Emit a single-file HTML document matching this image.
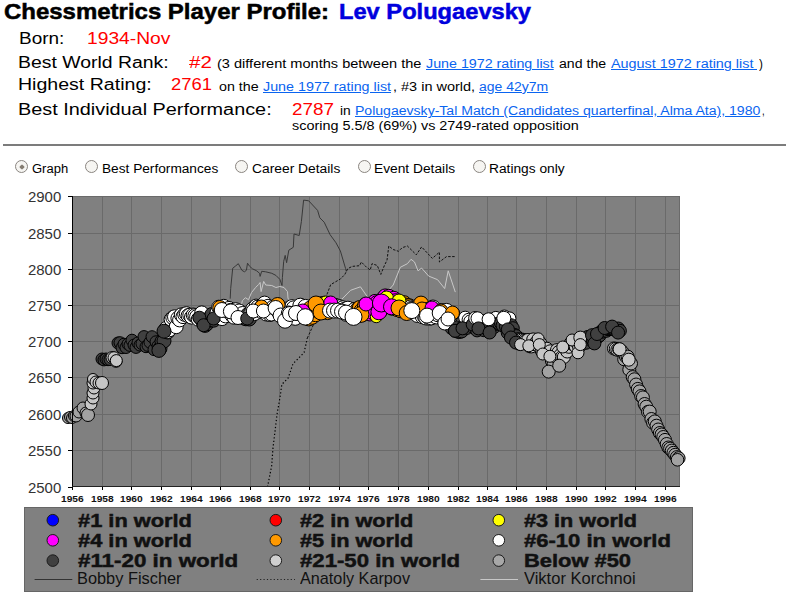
<!DOCTYPE html>
<html><head><meta charset="utf-8"><style>
html,body{margin:0;padding:0;background:#fff;width:789px;height:597px;overflow:hidden;position:relative}
body{font-family:"Liberation Sans",sans-serif}
.t{position:absolute;white-space:pre;transform-origin:0 0}
.radio{position:absolute;width:11px;height:11px;border:1px solid #8a8580;border-radius:50%;background:#f6f5f2}
svg{overflow:visible}
</style></head><body>
<div class="t" style="left:3.60px;top:1.27px;font-size:22px;line-height:22px;color:#000;font-weight:bold;transform:scaleX(1.0895);-webkit-text-stroke:0.5px #000;">Chessmetrics Player Profile:</div>
<div class="t" style="left:339.00px;top:1.27px;font-size:22px;line-height:22px;color:#0000dd;font-weight:bold;transform:scaleX(1.0756);-webkit-text-stroke:0.5px #0000dd;">Lev Polugaevsky</div>
<div class="t" style="left:18.60px;top:30.55px;font-size:16px;line-height:16px;color:#000;transform:scaleX(1.1859);">Born:</div>
<div class="t" style="left:86.50px;top:30.55px;font-size:16px;line-height:16px;color:#ff0000;transform:scaleX(1.2017);">1934-Nov</div>
<div class="t" style="left:18.40px;top:54.85px;font-size:16px;line-height:16px;color:#000;transform:scaleX(1.2126);">Best World Rank:</div>
<div class="t" style="left:188.50px;top:54.85px;font-size:16px;line-height:16px;color:#ff0000;transform:scaleX(1.2809);">#2</div>
<div class="t" style="left:216.80px;top:58.04px;font-size:12px;line-height:12px;color:#000;transform:scaleX(1.2129);">(3 different months between the</div>
<div class="t" style="left:425.80px;top:58.04px;font-size:12px;line-height:12px;color:#0a64f0;transform:scaleX(1.1890);text-decoration:underline;">June 1972 rating list</div>
<div class="t" style="left:558.70px;top:58.04px;font-size:12px;line-height:12px;color:#000;transform:scaleX(1.1775);">and the</div>
<div class="t" style="left:610.60px;top:58.04px;font-size:12px;line-height:12px;color:#0a64f0;transform:scaleX(1.1997);text-decoration:underline;">August 1972 rating list</div>
<div style="position:absolute;left:750px;top:69px;width:7px;height:1px;background:#0a64f0"></div>
<div class="t" style="left:758.50px;top:58.04px;font-size:12px;line-height:12px;color:#000;transform:scaleX(0.9750);">)</div>
<div class="t" style="left:18.30px;top:77.15px;font-size:16px;line-height:16px;color:#000;transform:scaleX(1.2221);">Highest Rating:</div>
<div class="t" style="left:171.20px;top:77.15px;font-size:16px;line-height:16px;color:#ff0000;transform:scaleX(1.1517);">2761</div>
<div class="t" style="left:218.70px;top:80.84px;font-size:12px;line-height:12px;color:#000;transform:scaleX(1.1886);">on the</div>
<div class="t" style="left:263.00px;top:80.84px;font-size:12px;line-height:12px;color:#0a64f0;transform:scaleX(1.1918);text-decoration:underline;">June 1977 rating list</div>
<div class="t" style="left:392.60px;top:80.84px;font-size:12px;line-height:12px;color:#000;transform:scaleX(1.2074);">, #3 in world,</div>
<div class="t" style="left:479.30px;top:80.84px;font-size:12px;line-height:12px;color:#0a64f0;transform:scaleX(1.1650);text-decoration:underline;">age 42y7m</div>
<div class="t" style="left:18.30px;top:101.55px;font-size:16px;line-height:16px;color:#000;transform:scaleX(1.2401);">Best Individual Performance:</div>
<div class="t" style="left:291.80px;top:101.95px;font-size:16px;line-height:16px;color:#ff0000;transform:scaleX(1.1798);">2787</div>
<div class="t" style="left:339.80px;top:105.04px;font-size:12px;line-height:12px;color:#000;transform:scaleX(1.1505);">in</div>
<div class="t" style="left:354.60px;top:105.04px;font-size:12px;line-height:12px;color:#0a64f0;transform:scaleX(1.1707);text-decoration:underline;">Polugaevsky-Tal Match (Candidates quarterfinal, Alma Ata), 1980</div>
<div class="t" style="left:762.00px;top:105.04px;font-size:12px;line-height:12px;color:#000;transform:scaleX(0.7879);">,</div>
<div class="t" style="left:291.80px;top:119.84px;font-size:12px;line-height:12px;color:#000;transform:scaleX(1.2006);">scoring 5.5/8 (69%) vs 2749-rated opposition</div>
<div style="position:absolute;left:3px;top:144px;width:783px;height:2px;background:#7c7c7c"></div>
<div class="radio" style="left:15.0px;top:160.1px"></div>
<div class="radio" style="left:85.1px;top:160.1px"></div>
<div class="radio" style="left:235.0px;top:160.1px"></div>
<div class="radio" style="left:358.3px;top:160.1px"></div>
<div class="radio" style="left:473.2px;top:160.1px"></div>
<div style="position:absolute;left:19.5px;top:164.6px;width:4px;height:4px;background:#857d72;transform:rotate(45deg);border-radius:1px"></div>
<div class="t" style="left:31.90px;top:162.94px;font-size:12px;line-height:12px;color:#000;transform:scaleX(1.0838);">Graph</div>
<div class="t" style="left:101.60px;top:162.94px;font-size:12px;line-height:12px;color:#000;transform:scaleX(1.1392);">Best Performances</div>
<div class="t" style="left:251.80px;top:162.94px;font-size:12px;line-height:12px;color:#000;transform:scaleX(1.1512);">Career Details</div>
<div class="t" style="left:373.80px;top:162.94px;font-size:12px;line-height:12px;color:#000;transform:scaleX(1.1471);">Event Details</div>
<div class="t" style="left:489.10px;top:162.94px;font-size:12px;line-height:12px;color:#000;transform:scaleX(1.1455);">Ratings only</div>
<svg style="position:absolute;left:0;top:0" width="789" height="597" viewBox="0 0 789 597"><rect x="72" y="196" width="608" height="291" fill="#808080"/>
<line x1="72.5" y1="196" x2="72.5" y2="487" stroke="#6a6a6a" stroke-width="1"/>
<line x1="72.5" y1="487" x2="72.5" y2="490" stroke="#000" stroke-width="1"/>
<line x1="102.5" y1="196" x2="102.5" y2="487" stroke="#6a6a6a" stroke-width="1"/>
<line x1="102.5" y1="487" x2="102.5" y2="490" stroke="#000" stroke-width="1"/>
<line x1="131.5" y1="196" x2="131.5" y2="487" stroke="#6a6a6a" stroke-width="1"/>
<line x1="131.5" y1="487" x2="131.5" y2="490" stroke="#000" stroke-width="1"/>
<line x1="161.5" y1="196" x2="161.5" y2="487" stroke="#6a6a6a" stroke-width="1"/>
<line x1="161.5" y1="487" x2="161.5" y2="490" stroke="#000" stroke-width="1"/>
<line x1="191.5" y1="196" x2="191.5" y2="487" stroke="#6a6a6a" stroke-width="1"/>
<line x1="191.5" y1="487" x2="191.5" y2="490" stroke="#000" stroke-width="1"/>
<line x1="220.5" y1="196" x2="220.5" y2="487" stroke="#6a6a6a" stroke-width="1"/>
<line x1="220.5" y1="487" x2="220.5" y2="490" stroke="#000" stroke-width="1"/>
<line x1="250.5" y1="196" x2="250.5" y2="487" stroke="#6a6a6a" stroke-width="1"/>
<line x1="250.5" y1="487" x2="250.5" y2="490" stroke="#000" stroke-width="1"/>
<line x1="279.5" y1="196" x2="279.5" y2="487" stroke="#6a6a6a" stroke-width="1"/>
<line x1="279.5" y1="487" x2="279.5" y2="490" stroke="#000" stroke-width="1"/>
<line x1="309.5" y1="196" x2="309.5" y2="487" stroke="#6a6a6a" stroke-width="1"/>
<line x1="309.5" y1="487" x2="309.5" y2="490" stroke="#000" stroke-width="1"/>
<line x1="339.5" y1="196" x2="339.5" y2="487" stroke="#6a6a6a" stroke-width="1"/>
<line x1="339.5" y1="487" x2="339.5" y2="490" stroke="#000" stroke-width="1"/>
<line x1="368.5" y1="196" x2="368.5" y2="487" stroke="#6a6a6a" stroke-width="1"/>
<line x1="368.5" y1="487" x2="368.5" y2="490" stroke="#000" stroke-width="1"/>
<line x1="398.5" y1="196" x2="398.5" y2="487" stroke="#6a6a6a" stroke-width="1"/>
<line x1="398.5" y1="487" x2="398.5" y2="490" stroke="#000" stroke-width="1"/>
<line x1="428.5" y1="196" x2="428.5" y2="487" stroke="#6a6a6a" stroke-width="1"/>
<line x1="428.5" y1="487" x2="428.5" y2="490" stroke="#000" stroke-width="1"/>
<line x1="458.5" y1="196" x2="458.5" y2="487" stroke="#6a6a6a" stroke-width="1"/>
<line x1="458.5" y1="487" x2="458.5" y2="490" stroke="#000" stroke-width="1"/>
<line x1="487.5" y1="196" x2="487.5" y2="487" stroke="#6a6a6a" stroke-width="1"/>
<line x1="487.5" y1="487" x2="487.5" y2="490" stroke="#000" stroke-width="1"/>
<line x1="516.5" y1="196" x2="516.5" y2="487" stroke="#6a6a6a" stroke-width="1"/>
<line x1="516.5" y1="487" x2="516.5" y2="490" stroke="#000" stroke-width="1"/>
<line x1="546.5" y1="196" x2="546.5" y2="487" stroke="#6a6a6a" stroke-width="1"/>
<line x1="546.5" y1="487" x2="546.5" y2="490" stroke="#000" stroke-width="1"/>
<line x1="576.5" y1="196" x2="576.5" y2="487" stroke="#6a6a6a" stroke-width="1"/>
<line x1="576.5" y1="487" x2="576.5" y2="490" stroke="#000" stroke-width="1"/>
<line x1="605.5" y1="196" x2="605.5" y2="487" stroke="#6a6a6a" stroke-width="1"/>
<line x1="605.5" y1="487" x2="605.5" y2="490" stroke="#000" stroke-width="1"/>
<line x1="635.5" y1="196" x2="635.5" y2="487" stroke="#6a6a6a" stroke-width="1"/>
<line x1="635.5" y1="487" x2="635.5" y2="490" stroke="#000" stroke-width="1"/>
<line x1="665.5" y1="196" x2="665.5" y2="487" stroke="#6a6a6a" stroke-width="1"/>
<line x1="665.5" y1="487" x2="665.5" y2="490" stroke="#000" stroke-width="1"/>
<line x1="68" y1="487.5" x2="72" y2="487.5" stroke="#000" stroke-width="1"/>
<line x1="72" y1="450.5" x2="680" y2="450.5" stroke="#6a6a6a" stroke-width="1"/>
<line x1="68" y1="450.5" x2="72" y2="450.5" stroke="#000" stroke-width="1"/>
<line x1="72" y1="414.5" x2="680" y2="414.5" stroke="#6a6a6a" stroke-width="1"/>
<line x1="68" y1="414.5" x2="72" y2="414.5" stroke="#000" stroke-width="1"/>
<line x1="72" y1="377.5" x2="680" y2="377.5" stroke="#6a6a6a" stroke-width="1"/>
<line x1="68" y1="377.5" x2="72" y2="377.5" stroke="#000" stroke-width="1"/>
<line x1="72" y1="341.5" x2="680" y2="341.5" stroke="#6a6a6a" stroke-width="1"/>
<line x1="68" y1="341.5" x2="72" y2="341.5" stroke="#000" stroke-width="1"/>
<line x1="72" y1="305.5" x2="680" y2="305.5" stroke="#6a6a6a" stroke-width="1"/>
<line x1="68" y1="305.5" x2="72" y2="305.5" stroke="#000" stroke-width="1"/>
<line x1="72" y1="269.5" x2="680" y2="269.5" stroke="#6a6a6a" stroke-width="1"/>
<line x1="68" y1="269.5" x2="72" y2="269.5" stroke="#000" stroke-width="1"/>
<line x1="72" y1="233.5" x2="680" y2="233.5" stroke="#6a6a6a" stroke-width="1"/>
<line x1="68" y1="233.5" x2="72" y2="233.5" stroke="#000" stroke-width="1"/>
<line x1="72" y1="196.5" x2="680" y2="196.5" stroke="#6a6a6a" stroke-width="1"/>
<line x1="68" y1="196.5" x2="72" y2="196.5" stroke="#000" stroke-width="1"/>
<line x1="679.5" y1="196" x2="679.5" y2="487" stroke="#6a6a6a"/>
<polyline points="240.9,306.8 242.4,300.7 245.4,297.7 248.5,299.7 251.5,292.6 255.6,287.5 258.6,284.5 260.1,282.5 261.1,291.6 263.7,281.4 265.7,285.0 271.8,285.5 275.9,287.5 279.9,286.5 284.0,287.5 287.5,291.6 288.0,298.7 300.0,305.0 330.0,300.0 341.8,299.2 350.6,290.3 360.4,286.8 368.4,298.3 380.0,300.0 393.2,285.0 400.3,267.3 407.4,263.7 411.0,259.3 414.5,262.0 418.0,270.8 421.6,268.1 428.7,276.1 437.6,279.7 444.7,288.6 448.2,270.8 455.3,292.1" fill="none" stroke="#c8c8c8" stroke-width="1"/>
<polyline points="230.2,298.7 230.7,288.5 232.7,268.3 235.3,266.2 238.3,263.7 241.9,270.3 244.4,271.8 246.4,270.3 247.5,263.2 249.5,266.2 252.5,268.8 256.6,270.8 259.6,273.3 260.1,276.4 261.7,271.3 265.7,271.8 271.8,273.3 275.9,275.4 279.9,279.4 282.0,285.5 282.4,277.4 283.7,261.3 285.2,255.4 286.6,262.7 288.8,250.2 293.3,247.3 294.0,234.0 299.2,235.5 301.4,221.5 303.6,200.1 308.7,200.8 317.6,210.4 319.8,217.8 324.2,222.2 330.1,234.7 336.0,242.8 340.4,251.0 345.6,268.6 346.3,271.6" fill="none" stroke="#383838" stroke-width="1"/>
<polyline points="267.5,487.0 271.7,465.6 273.0,448.0 277.0,414.6 280.3,395.5 281.8,384.4 288.2,378.0 293.0,363.7 297.8,359.0 304.1,352.5 307.3,338.2" fill="none" stroke="#000" stroke-width="1.2" stroke-dasharray="1.3,2.2"/>
<polyline points="307.3,338.2 326.0,297.0 326.0,297.0 330.7,284.6 340.4,279.0 344.8,274.5 347.8,268.6 352.2,266.4 359.6,265.7 361.3,262.0 366.6,267.3 370.2,270.0 372.0,263.7 377.3,265.5 380.8,274.4 384.4,265.5 387.0,260.2 388.8,246.0 393.2,249.5 398.6,251.3 402.1,247.7 407.4,246.0 416.3,254.8 421.6,246.9 432.3,258.4 439.4,252.2 439.4,262.0 446.5,256.6 455.3,256.6" fill="none" stroke="#111" stroke-width="1" stroke-dasharray="2.5,1.5"/>
<circle cx="102.0" cy="359.0" r="6" fill="#404040" stroke="#000" stroke-width="1"/>
<circle cx="104.0" cy="359.9" r="6" fill="#404040" stroke="#000" stroke-width="1"/>
<circle cx="106.0" cy="359.0" r="6" fill="#404040" stroke="#000" stroke-width="1"/>
<circle cx="108.0" cy="359.7" r="6" fill="#404040" stroke="#000" stroke-width="1"/>
<circle cx="110.0" cy="359.5" r="6" fill="#404040" stroke="#000" stroke-width="1"/>
<circle cx="112.0" cy="357.6" r="6" fill="#c6c6c6" stroke="#000" stroke-width="1"/>
<circle cx="114.0" cy="357.7" r="6" fill="#c6c6c6" stroke="#000" stroke-width="1"/>
<circle cx="116.0" cy="361.3" r="6" fill="#c6c6c6" stroke="#000" stroke-width="1"/>
<circle cx="118.0" cy="343.0" r="6" fill="#404040" stroke="#000" stroke-width="1"/>
<circle cx="120.0" cy="342.7" r="6" fill="#404040" stroke="#000" stroke-width="1"/>
<circle cx="122.0" cy="347.7" r="6" fill="#404040" stroke="#000" stroke-width="1"/>
<circle cx="124.0" cy="344.2" r="6" fill="#404040" stroke="#000" stroke-width="1"/>
<circle cx="126.0" cy="347.5" r="6" fill="#404040" stroke="#000" stroke-width="1"/>
<circle cx="128.0" cy="344.0" r="6" fill="#404040" stroke="#000" stroke-width="1"/>
<circle cx="130.0" cy="345.4" r="6" fill="#404040" stroke="#000" stroke-width="1"/>
<circle cx="132.0" cy="340.2" r="6" fill="#404040" stroke="#000" stroke-width="1"/>
<circle cx="134.0" cy="345.1" r="6" fill="#404040" stroke="#000" stroke-width="1"/>
<circle cx="136.0" cy="347.4" r="6" fill="#404040" stroke="#000" stroke-width="1"/>
<circle cx="138.0" cy="342.9" r="6" fill="#404040" stroke="#000" stroke-width="1"/>
<circle cx="140.0" cy="345.1" r="6" fill="#404040" stroke="#000" stroke-width="1"/>
<circle cx="142.0" cy="343.7" r="6" fill="#404040" stroke="#000" stroke-width="1"/>
<circle cx="144.0" cy="336.6" r="6" fill="#404040" stroke="#000" stroke-width="1"/>
<circle cx="146.0" cy="346.7" r="6" fill="#404040" stroke="#000" stroke-width="1"/>
<circle cx="148.0" cy="345.4" r="6" fill="#404040" stroke="#000" stroke-width="1"/>
<circle cx="150.0" cy="342.2" r="6" fill="#404040" stroke="#000" stroke-width="1"/>
<circle cx="152.0" cy="336.7" r="6" fill="#404040" stroke="#000" stroke-width="1"/>
<circle cx="154.0" cy="349.6" r="6" fill="#404040" stroke="#000" stroke-width="1"/>
<circle cx="156.0" cy="341.8" r="6" fill="#404040" stroke="#000" stroke-width="1"/>
<circle cx="158.0" cy="346.0" r="6" fill="#404040" stroke="#000" stroke-width="1"/>
<circle cx="160.0" cy="348.5" r="7" fill="#404040" stroke="#000" stroke-width="1"/>
<circle cx="162.0" cy="341.4" r="7" fill="#404040" stroke="#000" stroke-width="1"/>
<circle cx="164.0" cy="340.9" r="7" fill="#404040" stroke="#000" stroke-width="1"/>
<circle cx="166.0" cy="330.7" r="7" fill="#404040" stroke="#000" stroke-width="1"/>
<circle cx="167.7" cy="332.0" r="7" fill="#404040" stroke="#000" stroke-width="1"/>
<circle cx="166.0" cy="328.6" r="7" fill="#ffffff" stroke="#000" stroke-width="1"/>
<circle cx="167.7" cy="331.5" r="7" fill="#ffffff" stroke="#000" stroke-width="1"/>
<circle cx="169.4" cy="329.8" r="7" fill="#ffffff" stroke="#000" stroke-width="1"/>
<circle cx="171.1" cy="319.4" r="7" fill="#ffffff" stroke="#000" stroke-width="1"/>
<circle cx="172.8" cy="317.7" r="7" fill="#ffffff" stroke="#000" stroke-width="1"/>
<circle cx="174.5" cy="316.8" r="7" fill="#ffffff" stroke="#000" stroke-width="1"/>
<circle cx="176.2" cy="326.7" r="7" fill="#ffffff" stroke="#000" stroke-width="1"/>
<circle cx="177.9" cy="318.2" r="7" fill="#ffffff" stroke="#000" stroke-width="1"/>
<circle cx="179.6" cy="319.9" r="7" fill="#ffffff" stroke="#000" stroke-width="1"/>
<circle cx="181.3" cy="314.9" r="7" fill="#ffffff" stroke="#000" stroke-width="1"/>
<circle cx="183.0" cy="316.6" r="7" fill="#ffffff" stroke="#000" stroke-width="1"/>
<circle cx="184.7" cy="314.4" r="7" fill="#ffffff" stroke="#000" stroke-width="1"/>
<circle cx="186.4" cy="313.7" r="7" fill="#ffffff" stroke="#000" stroke-width="1"/>
<circle cx="188.1" cy="315.7" r="7" fill="#ffffff" stroke="#000" stroke-width="1"/>
<circle cx="189.8" cy="315.2" r="7" fill="#ffffff" stroke="#000" stroke-width="1"/>
<circle cx="191.5" cy="317.1" r="7" fill="#ffffff" stroke="#000" stroke-width="1"/>
<circle cx="193.2" cy="315.0" r="7" fill="#ffffff" stroke="#000" stroke-width="1"/>
<circle cx="194.9" cy="315.7" r="7" fill="#ffffff" stroke="#000" stroke-width="1"/>
<circle cx="196.6" cy="316.7" r="7" fill="#ffffff" stroke="#000" stroke-width="1"/>
<circle cx="198.3" cy="319.2" r="7" fill="#ffffff" stroke="#000" stroke-width="1"/>
<circle cx="200.0" cy="317.7" r="7" fill="#ffffff" stroke="#000" stroke-width="1"/>
<circle cx="201.7" cy="312.9" r="7" fill="#ffffff" stroke="#000" stroke-width="1"/>
<circle cx="203.4" cy="322.5" r="7" fill="#404040" stroke="#000" stroke-width="1"/>
<circle cx="205.1" cy="325.4" r="7" fill="#404040" stroke="#000" stroke-width="1"/>
<circle cx="206.8" cy="323.8" r="7" fill="#404040" stroke="#000" stroke-width="1"/>
<circle cx="208.5" cy="318.8" r="7" fill="#404040" stroke="#000" stroke-width="1"/>
<circle cx="210.2" cy="320.1" r="7" fill="#404040" stroke="#000" stroke-width="1"/>
<circle cx="211.9" cy="314.5" r="7" fill="#404040" stroke="#000" stroke-width="1"/>
<circle cx="213.6" cy="320.2" r="7" fill="#404040" stroke="#000" stroke-width="1"/>
<circle cx="215.3" cy="317.3" r="7" fill="#404040" stroke="#000" stroke-width="1"/>
<circle cx="217.0" cy="312.5" r="7" fill="#ffffff" stroke="#000" stroke-width="1"/>
<circle cx="218.7" cy="307.2" r="7" fill="#ffffff" stroke="#000" stroke-width="1"/>
<circle cx="220.4" cy="316.8" r="7" fill="#ffffff" stroke="#000" stroke-width="1"/>
<circle cx="222.1" cy="318.6" r="7" fill="#ffffff" stroke="#000" stroke-width="1"/>
<circle cx="223.8" cy="306.3" r="7" fill="#ffffff" stroke="#000" stroke-width="1"/>
<circle cx="225.5" cy="315.9" r="7" fill="#ffffff" stroke="#000" stroke-width="1"/>
<circle cx="227.2" cy="311.1" r="7" fill="#ffffff" stroke="#000" stroke-width="1"/>
<circle cx="228.9" cy="308.4" r="7" fill="#ffffff" stroke="#000" stroke-width="1"/>
<circle cx="230.6" cy="310.4" r="7" fill="#ffffff" stroke="#000" stroke-width="1"/>
<circle cx="232.3" cy="315.8" r="7" fill="#ffffff" stroke="#000" stroke-width="1"/>
<circle cx="234.0" cy="317.2" r="7" fill="#ffffff" stroke="#000" stroke-width="1"/>
<circle cx="235.7" cy="309.7" r="7" fill="#ffffff" stroke="#000" stroke-width="1"/>
<circle cx="237.4" cy="315.4" r="7" fill="#ffffff" stroke="#000" stroke-width="1"/>
<circle cx="239.1" cy="311.0" r="7" fill="#ffffff" stroke="#000" stroke-width="1"/>
<circle cx="240.8" cy="316.7" r="7" fill="#ffffff" stroke="#000" stroke-width="1"/>
<circle cx="242.5" cy="313.5" r="7" fill="#ffffff" stroke="#000" stroke-width="1"/>
<circle cx="244.2" cy="318.0" r="7" fill="#404040" stroke="#000" stroke-width="1"/>
<circle cx="245.9" cy="318.8" r="7" fill="#404040" stroke="#000" stroke-width="1"/>
<circle cx="247.6" cy="314.7" r="7" fill="#404040" stroke="#000" stroke-width="1"/>
<circle cx="249.3" cy="319.0" r="7" fill="#404040" stroke="#000" stroke-width="1"/>
<circle cx="251.0" cy="312.2" r="7" fill="#ffffff" stroke="#000" stroke-width="1"/>
<circle cx="252.7" cy="308.9" r="7" fill="#ffffff" stroke="#000" stroke-width="1"/>
<circle cx="254.4" cy="313.6" r="7" fill="#ffffff" stroke="#000" stroke-width="1"/>
<circle cx="256.1" cy="306.1" r="7" fill="#ffffff" stroke="#000" stroke-width="1"/>
<circle cx="257.8" cy="307.1" r="7" fill="#ffffff" stroke="#000" stroke-width="1"/>
<circle cx="259.5" cy="309.0" r="7" fill="#ffffff" stroke="#000" stroke-width="1"/>
<circle cx="261.2" cy="311.4" r="7" fill="#ffffff" stroke="#000" stroke-width="1"/>
<circle cx="262.9" cy="304.9" r="7" fill="#ffffff" stroke="#000" stroke-width="1"/>
<circle cx="264.6" cy="303.1" r="7" fill="#ffffff" stroke="#000" stroke-width="1"/>
<circle cx="266.3" cy="314.0" r="7" fill="#ffffff" stroke="#000" stroke-width="1"/>
<circle cx="268.0" cy="306.3" r="7" fill="#ffffff" stroke="#000" stroke-width="1"/>
<circle cx="269.7" cy="314.5" r="7" fill="#ffffff" stroke="#000" stroke-width="1"/>
<circle cx="271.4" cy="314.0" r="7" fill="#ffffff" stroke="#000" stroke-width="1"/>
<circle cx="273.1" cy="307.1" r="7" fill="#ffffff" stroke="#000" stroke-width="1"/>
<circle cx="274.8" cy="308.4" r="7" fill="#ffffff" stroke="#000" stroke-width="1"/>
<circle cx="276.5" cy="309.5" r="7" fill="#ffffff" stroke="#000" stroke-width="1"/>
<circle cx="278.2" cy="311.7" r="7" fill="#ffffff" stroke="#000" stroke-width="1"/>
<circle cx="279.9" cy="311.1" r="7" fill="#ffffff" stroke="#000" stroke-width="1"/>
<circle cx="281.6" cy="310.5" r="7" fill="#ffffff" stroke="#000" stroke-width="1"/>
<circle cx="283.3" cy="311.4" r="7" fill="#ffffff" stroke="#000" stroke-width="1"/>
<circle cx="285.0" cy="316.1" r="7" fill="#ffffff" stroke="#000" stroke-width="1"/>
<circle cx="286.7" cy="309.6" r="7" fill="#ffffff" stroke="#000" stroke-width="1"/>
<circle cx="288.4" cy="308.6" r="7" fill="#ffffff" stroke="#000" stroke-width="1"/>
<circle cx="290.1" cy="312.4" r="7" fill="#ffffff" stroke="#000" stroke-width="1"/>
<circle cx="291.8" cy="306.6" r="7" fill="#ffffff" stroke="#000" stroke-width="1"/>
<circle cx="293.5" cy="307.9" r="7" fill="#ffffff" stroke="#000" stroke-width="1"/>
<circle cx="295.2" cy="318.3" r="7" fill="#ffffff" stroke="#000" stroke-width="1"/>
<circle cx="296.9" cy="312.2" r="7" fill="#ffffff" stroke="#000" stroke-width="1"/>
<circle cx="298.6" cy="313.3" r="7" fill="#ffffff" stroke="#000" stroke-width="1"/>
<circle cx="300.3" cy="305.7" r="7.5" fill="#ffffff" stroke="#000" stroke-width="1"/>
<circle cx="302.0" cy="312.4" r="7.5" fill="#ffffff" stroke="#000" stroke-width="1"/>
<circle cx="303.7" cy="315.6" r="7.5" fill="#ffffff" stroke="#000" stroke-width="1"/>
<circle cx="305.4" cy="306.9" r="7.5" fill="#ffffff" stroke="#000" stroke-width="1"/>
<circle cx="307.1" cy="317.5" r="7.5" fill="#ffffff" stroke="#000" stroke-width="1"/>
<circle cx="308.8" cy="318.4" r="7.5" fill="#ff9900" stroke="#000" stroke-width="1"/>
<circle cx="310.5" cy="308.4" r="7.5" fill="#ff9900" stroke="#000" stroke-width="1"/>
<circle cx="312.2" cy="316.8" r="7.5" fill="#ff9900" stroke="#000" stroke-width="1"/>
<circle cx="313.9" cy="312.9" r="7.5" fill="#ff9900" stroke="#000" stroke-width="1"/>
<circle cx="315.6" cy="314.2" r="7.5" fill="#ff9900" stroke="#000" stroke-width="1"/>
<circle cx="317.3" cy="309.1" r="7.5" fill="#ff9900" stroke="#000" stroke-width="1"/>
<circle cx="319.0" cy="311.2" r="7.5" fill="#ff9900" stroke="#000" stroke-width="1"/>
<circle cx="320.7" cy="310.3" r="7.5" fill="#ff9900" stroke="#000" stroke-width="1"/>
<circle cx="322.4" cy="304.0" r="7.5" fill="#ff9900" stroke="#000" stroke-width="1"/>
<circle cx="324.1" cy="303.8" r="7.5" fill="#ff9900" stroke="#000" stroke-width="1"/>
<circle cx="325.8" cy="309.3" r="7.5" fill="#ff9900" stroke="#000" stroke-width="1"/>
<circle cx="327.5" cy="312.1" r="7.5" fill="#ff9900" stroke="#000" stroke-width="1"/>
<circle cx="329.2" cy="304.4" r="7.5" fill="#ff9900" stroke="#000" stroke-width="1"/>
<circle cx="330.9" cy="306.7" r="7.5" fill="#ffffff" stroke="#000" stroke-width="1"/>
<circle cx="332.6" cy="308.3" r="7.5" fill="#ffffff" stroke="#000" stroke-width="1"/>
<circle cx="334.3" cy="305.9" r="7.5" fill="#ffffff" stroke="#000" stroke-width="1"/>
<circle cx="336.0" cy="306.6" r="7.5" fill="#ffffff" stroke="#000" stroke-width="1"/>
<circle cx="337.7" cy="306.5" r="7.5" fill="#ffffff" stroke="#000" stroke-width="1"/>
<circle cx="339.4" cy="307.3" r="7.5" fill="#ffffff" stroke="#000" stroke-width="1"/>
<circle cx="341.1" cy="309.8" r="7.5" fill="#ffffff" stroke="#000" stroke-width="1"/>
<circle cx="342.8" cy="308.3" r="7.5" fill="#ffffff" stroke="#000" stroke-width="1"/>
<circle cx="344.5" cy="309.8" r="7.5" fill="#ffffff" stroke="#000" stroke-width="1"/>
<circle cx="346.2" cy="313.8" r="7.5" fill="#ffffff" stroke="#000" stroke-width="1"/>
<circle cx="347.9" cy="308.7" r="7.5" fill="#ffffff" stroke="#000" stroke-width="1"/>
<circle cx="349.6" cy="313.9" r="7.5" fill="#ffffff" stroke="#000" stroke-width="1"/>
<circle cx="351.3" cy="315.3" r="7.5" fill="#ffffff" stroke="#000" stroke-width="1"/>
<circle cx="353.0" cy="311.2" r="7.5" fill="#ffffff" stroke="#000" stroke-width="1"/>
<circle cx="354.7" cy="309.9" r="7.5" fill="#ffffff" stroke="#000" stroke-width="1"/>
<circle cx="356.4" cy="315.9" r="7.5" fill="#ff9900" stroke="#000" stroke-width="1"/>
<circle cx="358.1" cy="309.1" r="7.5" fill="#ff9900" stroke="#000" stroke-width="1"/>
<circle cx="359.8" cy="308.0" r="7.5" fill="#ff9900" stroke="#000" stroke-width="1"/>
<circle cx="361.5" cy="310.8" r="7.5" fill="#ff9900" stroke="#000" stroke-width="1"/>
<circle cx="363.2" cy="313.7" r="7.5" fill="#ff9900" stroke="#000" stroke-width="1"/>
<circle cx="364.9" cy="305.8" r="7.5" fill="#ff9900" stroke="#000" stroke-width="1"/>
<circle cx="366.6" cy="308.2" r="7.5" fill="#ff00ff" stroke="#000" stroke-width="1"/>
<circle cx="368.3" cy="307.9" r="7.5" fill="#ff00ff" stroke="#000" stroke-width="1"/>
<circle cx="370.0" cy="313.5" r="7.5" fill="#ff00ff" stroke="#000" stroke-width="1"/>
<circle cx="371.7" cy="307.8" r="7.5" fill="#ff00ff" stroke="#000" stroke-width="1"/>
<circle cx="373.4" cy="312.5" r="7.5" fill="#ff00ff" stroke="#000" stroke-width="1"/>
<circle cx="375.1" cy="301.9" r="7.5" fill="#ff00ff" stroke="#000" stroke-width="1"/>
<circle cx="376.8" cy="303.2" r="7.5" fill="#ff00ff" stroke="#000" stroke-width="1"/>
<circle cx="378.5" cy="307.3" r="7.5" fill="#ff00ff" stroke="#000" stroke-width="1"/>
<circle cx="380.2" cy="310.5" r="7.5" fill="#ff00ff" stroke="#000" stroke-width="1"/>
<circle cx="381.9" cy="302.7" r="7.5" fill="#ff00ff" stroke="#000" stroke-width="1"/>
<circle cx="383.6" cy="298.5" r="7.5" fill="#ff00ff" stroke="#000" stroke-width="1"/>
<circle cx="385.3" cy="296.4" r="7.5" fill="#ff00ff" stroke="#000" stroke-width="1"/>
<circle cx="387.0" cy="302.7" r="7.5" fill="#ff00ff" stroke="#000" stroke-width="1"/>
<circle cx="388.7" cy="296.8" r="7.5" fill="#ff00ff" stroke="#000" stroke-width="1"/>
<circle cx="390.4" cy="306.6" r="7.5" fill="#ff00ff" stroke="#000" stroke-width="1"/>
<circle cx="392.1" cy="307.7" r="7.5" fill="#ff00ff" stroke="#000" stroke-width="1"/>
<circle cx="393.8" cy="298.8" r="7.5" fill="#ff00ff" stroke="#000" stroke-width="1"/>
<circle cx="395.5" cy="301.2" r="7.5" fill="#ff00ff" stroke="#000" stroke-width="1"/>
<circle cx="397.2" cy="309.1" r="7.5" fill="#ff9900" stroke="#000" stroke-width="1"/>
<circle cx="398.9" cy="307.7" r="7.5" fill="#ff9900" stroke="#000" stroke-width="1"/>
<circle cx="400.6" cy="310.3" r="7.5" fill="#ff9900" stroke="#000" stroke-width="1"/>
<circle cx="402.3" cy="305.3" r="7.5" fill="#ff9900" stroke="#000" stroke-width="1"/>
<circle cx="404.0" cy="303.2" r="7.5" fill="#ff9900" stroke="#000" stroke-width="1"/>
<circle cx="405.7" cy="305.5" r="7.5" fill="#ff9900" stroke="#000" stroke-width="1"/>
<circle cx="407.4" cy="311.7" r="7.5" fill="#ff9900" stroke="#000" stroke-width="1"/>
<circle cx="409.1" cy="306.2" r="7.5" fill="#ff9900" stroke="#000" stroke-width="1"/>
<circle cx="410.8" cy="307.4" r="7.5" fill="#ffffff" stroke="#000" stroke-width="1"/>
<circle cx="412.5" cy="308.3" r="7.5" fill="#ffffff" stroke="#000" stroke-width="1"/>
<circle cx="414.2" cy="308.5" r="7.5" fill="#ffffff" stroke="#000" stroke-width="1"/>
<circle cx="415.9" cy="308.5" r="7.5" fill="#ffffff" stroke="#000" stroke-width="1"/>
<circle cx="417.6" cy="315.0" r="7.5" fill="#ffffff" stroke="#000" stroke-width="1"/>
<circle cx="419.3" cy="305.5" r="7.5" fill="#ffffff" stroke="#000" stroke-width="1"/>
<circle cx="421.0" cy="303.6" r="7.5" fill="#ff9900" stroke="#000" stroke-width="1"/>
<circle cx="422.7" cy="316.3" r="7.5" fill="#ffffff" stroke="#000" stroke-width="1"/>
<circle cx="424.4" cy="315.7" r="7.5" fill="#ffffff" stroke="#000" stroke-width="1"/>
<circle cx="426.1" cy="317.5" r="7.5" fill="#ffffff" stroke="#000" stroke-width="1"/>
<circle cx="427.8" cy="309.8" r="7.5" fill="#ffffff" stroke="#000" stroke-width="1"/>
<circle cx="429.5" cy="317.7" r="7.5" fill="#ffffff" stroke="#000" stroke-width="1"/>
<circle cx="431.2" cy="317.4" r="7.5" fill="#ffffff" stroke="#000" stroke-width="1"/>
<circle cx="432.9" cy="307.5" r="7.5" fill="#ffffff" stroke="#000" stroke-width="1"/>
<circle cx="434.6" cy="315.0" r="7.5" fill="#ffffff" stroke="#000" stroke-width="1"/>
<circle cx="436.3" cy="316.4" r="7.5" fill="#ffffff" stroke="#000" stroke-width="1"/>
<circle cx="438.0" cy="314.3" r="7.5" fill="#ffffff" stroke="#000" stroke-width="1"/>
<circle cx="439.7" cy="312.7" r="7.5" fill="#ffffff" stroke="#000" stroke-width="1"/>
<circle cx="441.4" cy="311.0" r="7.5" fill="#ffffff" stroke="#000" stroke-width="1"/>
<circle cx="443.1" cy="312.9" r="7.5" fill="#ffffff" stroke="#000" stroke-width="1"/>
<circle cx="444.8" cy="312.4" r="7.5" fill="#ffffff" stroke="#000" stroke-width="1"/>
<circle cx="446.5" cy="310.9" r="7.5" fill="#ffffff" stroke="#000" stroke-width="1"/>
<circle cx="448.2" cy="321.0" r="7.5" fill="#ffffff" stroke="#000" stroke-width="1"/>
<circle cx="449.9" cy="316.9" r="7.5" fill="#ffffff" stroke="#000" stroke-width="1"/>
<circle cx="451.6" cy="328.0" r="6.5" fill="#404040" stroke="#000" stroke-width="1"/>
<circle cx="453.3" cy="313.7" r="6.5" fill="#ffffff" stroke="#000" stroke-width="1"/>
<circle cx="455.0" cy="330.7" r="6.5" fill="#404040" stroke="#000" stroke-width="1"/>
<circle cx="456.7" cy="327.4" r="6.5" fill="#404040" stroke="#000" stroke-width="1"/>
<circle cx="458.4" cy="331.9" r="6.5" fill="#404040" stroke="#000" stroke-width="1"/>
<circle cx="460.1" cy="331.8" r="6.5" fill="#404040" stroke="#000" stroke-width="1"/>
<circle cx="461.8" cy="331.4" r="6.5" fill="#404040" stroke="#000" stroke-width="1"/>
<circle cx="463.5" cy="326.1" r="6.5" fill="#404040" stroke="#000" stroke-width="1"/>
<circle cx="465.2" cy="317.7" r="6.5" fill="#ffffff" stroke="#000" stroke-width="1"/>
<circle cx="466.9" cy="327.9" r="6.5" fill="#404040" stroke="#000" stroke-width="1"/>
<circle cx="468.6" cy="319.8" r="6.5" fill="#ffffff" stroke="#000" stroke-width="1"/>
<circle cx="470.3" cy="321.4" r="6.5" fill="#ffffff" stroke="#000" stroke-width="1"/>
<circle cx="472.0" cy="326.3" r="6.5" fill="#404040" stroke="#000" stroke-width="1"/>
<circle cx="473.7" cy="324.5" r="6.5" fill="#404040" stroke="#000" stroke-width="1"/>
<circle cx="475.4" cy="323.1" r="6.5" fill="#404040" stroke="#000" stroke-width="1"/>
<circle cx="477.1" cy="330.4" r="6.5" fill="#404040" stroke="#000" stroke-width="1"/>
<circle cx="478.8" cy="326.0" r="6.5" fill="#404040" stroke="#000" stroke-width="1"/>
<circle cx="480.5" cy="322.3" r="6.5" fill="#404040" stroke="#000" stroke-width="1"/>
<circle cx="482.2" cy="321.0" r="6.5" fill="#ffffff" stroke="#000" stroke-width="1"/>
<circle cx="483.9" cy="330.2" r="6.5" fill="#404040" stroke="#000" stroke-width="1"/>
<circle cx="485.6" cy="324.4" r="6.5" fill="#404040" stroke="#000" stroke-width="1"/>
<circle cx="487.3" cy="329.4" r="6.5" fill="#404040" stroke="#000" stroke-width="1"/>
<circle cx="489.0" cy="322.5" r="6.5" fill="#404040" stroke="#000" stroke-width="1"/>
<circle cx="490.7" cy="319.7" r="6.5" fill="#ffffff" stroke="#000" stroke-width="1"/>
<circle cx="492.4" cy="324.2" r="6.5" fill="#404040" stroke="#000" stroke-width="1"/>
<circle cx="494.1" cy="327.0" r="6.5" fill="#404040" stroke="#000" stroke-width="1"/>
<circle cx="495.8" cy="317.9" r="6.5" fill="#ffffff" stroke="#000" stroke-width="1"/>
<circle cx="497.5" cy="323.9" r="6.5" fill="#404040" stroke="#000" stroke-width="1"/>
<circle cx="499.2" cy="323.6" r="6.5" fill="#404040" stroke="#000" stroke-width="1"/>
<circle cx="500.9" cy="323.1" r="6.5" fill="#404040" stroke="#000" stroke-width="1"/>
<circle cx="502.6" cy="325.4" r="6.5" fill="#404040" stroke="#000" stroke-width="1"/>
<circle cx="504.3" cy="316.5" r="6.5" fill="#ffffff" stroke="#000" stroke-width="1"/>
<circle cx="506.0" cy="326.6" r="6.5" fill="#404040" stroke="#000" stroke-width="1"/>
<circle cx="507.7" cy="332.6" r="6.5" fill="#404040" stroke="#000" stroke-width="1"/>
<circle cx="509.4" cy="318.4" r="6.5" fill="#ffffff" stroke="#000" stroke-width="1"/>
<circle cx="511.1" cy="325.2" r="6.5" fill="#404040" stroke="#000" stroke-width="1"/>
<circle cx="512.8" cy="328.2" r="6.5" fill="#404040" stroke="#000" stroke-width="1"/>
<circle cx="514.5" cy="334.9" r="6.5" fill="#404040" stroke="#000" stroke-width="1"/>
<circle cx="516.2" cy="336.1" r="6.5" fill="#404040" stroke="#000" stroke-width="1"/>
<circle cx="517.9" cy="339.2" r="6.5" fill="#404040" stroke="#000" stroke-width="1"/>
<circle cx="519.6" cy="343.7" r="6.5" fill="#404040" stroke="#000" stroke-width="1"/>
<circle cx="521.3" cy="339.5" r="6.5" fill="#c6c6c6" stroke="#000" stroke-width="1"/>
<circle cx="523.0" cy="339.8" r="6.5" fill="#c6c6c6" stroke="#000" stroke-width="1"/>
<circle cx="524.7" cy="340.3" r="6.5" fill="#c6c6c6" stroke="#000" stroke-width="1"/>
<circle cx="526.4" cy="340.3" r="6.5" fill="#c6c6c6" stroke="#000" stroke-width="1"/>
<circle cx="528.1" cy="340.0" r="6.5" fill="#c6c6c6" stroke="#000" stroke-width="1"/>
<circle cx="529.8" cy="346.3" r="6.5" fill="#c6c6c6" stroke="#000" stroke-width="1"/>
<circle cx="531.5" cy="346.4" r="6.5" fill="#c6c6c6" stroke="#000" stroke-width="1"/>
<circle cx="533.2" cy="339.4" r="6.5" fill="#c6c6c6" stroke="#000" stroke-width="1"/>
<circle cx="534.9" cy="344.3" r="6.5" fill="#c6c6c6" stroke="#000" stroke-width="1"/>
<circle cx="536.6" cy="342.0" r="6.5" fill="#c6c6c6" stroke="#000" stroke-width="1"/>
<circle cx="538.3" cy="342.1" r="6.5" fill="#c6c6c6" stroke="#000" stroke-width="1"/>
<circle cx="540.0" cy="342.8" r="6.5" fill="#c6c6c6" stroke="#000" stroke-width="1"/>
<circle cx="541.7" cy="350.7" r="6.5" fill="#c6c6c6" stroke="#000" stroke-width="1"/>
<circle cx="543.4" cy="352.1" r="6.5" fill="#c6c6c6" stroke="#000" stroke-width="1"/>
<circle cx="545.1" cy="350.0" r="6.5" fill="#c6c6c6" stroke="#000" stroke-width="1"/>
<circle cx="546.8" cy="348.7" r="6.5" fill="#c6c6c6" stroke="#000" stroke-width="1"/>
<circle cx="548.5" cy="354.0" r="6.5" fill="#c6c6c6" stroke="#000" stroke-width="1"/>
<circle cx="550.2" cy="351.3" r="6.5" fill="#c6c6c6" stroke="#000" stroke-width="1"/>
<circle cx="551.9" cy="360.9" r="6.5" fill="#a2a2a2" stroke="#000" stroke-width="1"/>
<circle cx="553.6" cy="363.9" r="6.5" fill="#a2a2a2" stroke="#000" stroke-width="1"/>
<circle cx="555.3" cy="356.4" r="6.5" fill="#c6c6c6" stroke="#000" stroke-width="1"/>
<circle cx="557.0" cy="350.1" r="6.5" fill="#c6c6c6" stroke="#000" stroke-width="1"/>
<circle cx="558.7" cy="352.0" r="6.5" fill="#c6c6c6" stroke="#000" stroke-width="1"/>
<circle cx="560.4" cy="355.1" r="6.5" fill="#c6c6c6" stroke="#000" stroke-width="1"/>
<circle cx="562.1" cy="356.8" r="6.5" fill="#c6c6c6" stroke="#000" stroke-width="1"/>
<circle cx="563.8" cy="357.0" r="6.5" fill="#c6c6c6" stroke="#000" stroke-width="1"/>
<circle cx="565.5" cy="348.7" r="6.5" fill="#c6c6c6" stroke="#000" stroke-width="1"/>
<circle cx="567.2" cy="351.5" r="6.5" fill="#c6c6c6" stroke="#000" stroke-width="1"/>
<circle cx="568.9" cy="346.8" r="6.5" fill="#c6c6c6" stroke="#000" stroke-width="1"/>
<circle cx="570.6" cy="343.4" r="6.5" fill="#c6c6c6" stroke="#000" stroke-width="1"/>
<circle cx="572.3" cy="342.7" r="6.5" fill="#c6c6c6" stroke="#000" stroke-width="1"/>
<circle cx="574.0" cy="344.0" r="6.5" fill="#c6c6c6" stroke="#000" stroke-width="1"/>
<circle cx="575.7" cy="346.5" r="6.5" fill="#c6c6c6" stroke="#000" stroke-width="1"/>
<circle cx="577.4" cy="342.9" r="6.5" fill="#c6c6c6" stroke="#000" stroke-width="1"/>
<circle cx="579.1" cy="346.8" r="6.5" fill="#c6c6c6" stroke="#000" stroke-width="1"/>
<circle cx="580.8" cy="343.0" r="6.5" fill="#c6c6c6" stroke="#000" stroke-width="1"/>
<circle cx="582.5" cy="339.6" r="6.5" fill="#c6c6c6" stroke="#000" stroke-width="1"/>
<circle cx="584.2" cy="342.3" r="6.5" fill="#404040" stroke="#000" stroke-width="1"/>
<circle cx="585.9" cy="342.8" r="6.5" fill="#404040" stroke="#000" stroke-width="1"/>
<circle cx="587.6" cy="337.0" r="6.5" fill="#404040" stroke="#000" stroke-width="1"/>
<circle cx="589.3" cy="338.9" r="6.5" fill="#404040" stroke="#000" stroke-width="1"/>
<circle cx="591.0" cy="338.1" r="6.5" fill="#404040" stroke="#000" stroke-width="1"/>
<circle cx="592.7" cy="339.5" r="6.5" fill="#404040" stroke="#000" stroke-width="1"/>
<circle cx="594.4" cy="339.0" r="6.5" fill="#404040" stroke="#000" stroke-width="1"/>
<circle cx="596.1" cy="334.9" r="6.5" fill="#404040" stroke="#000" stroke-width="1"/>
<circle cx="597.8" cy="337.0" r="6.5" fill="#404040" stroke="#000" stroke-width="1"/>
<circle cx="599.5" cy="335.5" r="6.5" fill="#404040" stroke="#000" stroke-width="1"/>
<circle cx="601.2" cy="331.5" r="6.5" fill="#404040" stroke="#000" stroke-width="1"/>
<circle cx="602.9" cy="331.6" r="6.5" fill="#404040" stroke="#000" stroke-width="1"/>
<circle cx="604.6" cy="329.2" r="6.5" fill="#404040" stroke="#000" stroke-width="1"/>
<circle cx="606.3" cy="330.8" r="6.5" fill="#404040" stroke="#000" stroke-width="1"/>
<circle cx="608.0" cy="329.2" r="6.5" fill="#404040" stroke="#000" stroke-width="1"/>
<circle cx="609.7" cy="328.5" r="6.5" fill="#404040" stroke="#000" stroke-width="1"/>
<circle cx="611.4" cy="328.6" r="6.5" fill="#404040" stroke="#000" stroke-width="1"/>
<circle cx="613.1" cy="328.9" r="6.5" fill="#404040" stroke="#000" stroke-width="1"/>
<circle cx="614.8" cy="329.6" r="6.5" fill="#404040" stroke="#000" stroke-width="1"/>
<circle cx="616.5" cy="329.7" r="6.5" fill="#404040" stroke="#000" stroke-width="1"/>
<circle cx="618.2" cy="328.5" r="6.5" fill="#404040" stroke="#000" stroke-width="1"/>
<circle cx="619.9" cy="330.8" r="6.5" fill="#404040" stroke="#000" stroke-width="1"/>
<circle cx="614.0" cy="348.5" r="6.5" fill="#c6c6c6" stroke="#000" stroke-width="1"/>
<circle cx="615.7" cy="348.9" r="6.5" fill="#c6c6c6" stroke="#000" stroke-width="1"/>
<circle cx="617.4" cy="349.8" r="6.5" fill="#c6c6c6" stroke="#000" stroke-width="1"/>
<circle cx="619.1" cy="349.4" r="6.5" fill="#c6c6c6" stroke="#000" stroke-width="1"/>
<circle cx="620.8" cy="350.4" r="6.5" fill="#c6c6c6" stroke="#000" stroke-width="1"/>
<circle cx="622.5" cy="352.2" r="6.5" fill="#c6c6c6" stroke="#000" stroke-width="1"/>
<circle cx="624.2" cy="359.3" r="6.5" fill="#a2a2a2" stroke="#000" stroke-width="1"/>
<circle cx="625.9" cy="356.5" r="6.5" fill="#a2a2a2" stroke="#000" stroke-width="1"/>
<circle cx="627.6" cy="356.6" r="6.5" fill="#a2a2a2" stroke="#000" stroke-width="1"/>
<circle cx="629.3" cy="369.7" r="6.5" fill="#a2a2a2" stroke="#000" stroke-width="1"/>
<circle cx="631.0" cy="363.5" r="6.5" fill="#a2a2a2" stroke="#000" stroke-width="1"/>
<circle cx="632.7" cy="377.1" r="6.5" fill="#a2a2a2" stroke="#000" stroke-width="1"/>
<circle cx="634.4" cy="379.3" r="6.5" fill="#a2a2a2" stroke="#000" stroke-width="1"/>
<circle cx="636.1" cy="384.5" r="6.5" fill="#a2a2a2" stroke="#000" stroke-width="1"/>
<circle cx="637.8" cy="388.9" r="6.5" fill="#a2a2a2" stroke="#000" stroke-width="1"/>
<circle cx="639.5" cy="391.4" r="6.5" fill="#a2a2a2" stroke="#000" stroke-width="1"/>
<circle cx="641.2" cy="396.0" r="6.5" fill="#a2a2a2" stroke="#000" stroke-width="1"/>
<circle cx="642.9" cy="397.4" r="6.5" fill="#a2a2a2" stroke="#000" stroke-width="1"/>
<circle cx="644.6" cy="404.0" r="6.5" fill="#a2a2a2" stroke="#000" stroke-width="1"/>
<circle cx="646.3" cy="406.7" r="6.5" fill="#a2a2a2" stroke="#000" stroke-width="1"/>
<circle cx="648.0" cy="411.8" r="6.5" fill="#a2a2a2" stroke="#000" stroke-width="1"/>
<circle cx="649.7" cy="411.6" r="6.5" fill="#a2a2a2" stroke="#000" stroke-width="1"/>
<circle cx="651.4" cy="419.0" r="6.5" fill="#a2a2a2" stroke="#000" stroke-width="1"/>
<circle cx="653.1" cy="422.8" r="6.5" fill="#a2a2a2" stroke="#000" stroke-width="1"/>
<circle cx="654.8" cy="421.4" r="6.5" fill="#a2a2a2" stroke="#000" stroke-width="1"/>
<circle cx="656.5" cy="425.7" r="6.5" fill="#a2a2a2" stroke="#000" stroke-width="1"/>
<circle cx="658.2" cy="429.5" r="6.5" fill="#a2a2a2" stroke="#000" stroke-width="1"/>
<circle cx="659.9" cy="433.0" r="6.5" fill="#a2a2a2" stroke="#000" stroke-width="1"/>
<circle cx="661.6" cy="434.5" r="6.5" fill="#a2a2a2" stroke="#000" stroke-width="1"/>
<circle cx="663.3" cy="437.0" r="6.5" fill="#a2a2a2" stroke="#000" stroke-width="1"/>
<circle cx="665.0" cy="439.9" r="6.5" fill="#a2a2a2" stroke="#000" stroke-width="1"/>
<circle cx="666.7" cy="444.0" r="6.5" fill="#a2a2a2" stroke="#000" stroke-width="1"/>
<circle cx="668.4" cy="447.5" r="6.5" fill="#a2a2a2" stroke="#000" stroke-width="1"/>
<circle cx="670.1" cy="448.6" r="6.5" fill="#a2a2a2" stroke="#000" stroke-width="1"/>
<circle cx="671.8" cy="450.6" r="6.5" fill="#a2a2a2" stroke="#000" stroke-width="1"/>
<circle cx="673.5" cy="452.8" r="6.5" fill="#a2a2a2" stroke="#000" stroke-width="1"/>
<circle cx="675.2" cy="454.8" r="6.5" fill="#a2a2a2" stroke="#000" stroke-width="1"/>
<circle cx="676.9" cy="457.1" r="6.5" fill="#a2a2a2" stroke="#000" stroke-width="1"/>
<circle cx="678.6" cy="458.2" r="6.5" fill="#a2a2a2" stroke="#000" stroke-width="1"/>
<circle cx="68.0" cy="418.0" r="5.5" fill="#a2a2a2" stroke="#000" stroke-width="1"/>
<circle cx="70.0" cy="417.0" r="5.5" fill="#a2a2a2" stroke="#000" stroke-width="1"/>
<circle cx="72.0" cy="418.0" r="5.5" fill="#a2a2a2" stroke="#000" stroke-width="1"/>
<circle cx="74.0" cy="416.0" r="5.5" fill="#a2a2a2" stroke="#000" stroke-width="1"/>
<circle cx="76.0" cy="416.0" r="6" fill="#a2a2a2" stroke="#000" stroke-width="1"/>
<circle cx="79.0" cy="412.0" r="6" fill="#a2a2a2" stroke="#000" stroke-width="1"/>
<circle cx="83.0" cy="408.0" r="6" fill="#a2a2a2" stroke="#000" stroke-width="1"/>
<circle cx="86.0" cy="413.0" r="6" fill="#a2a2a2" stroke="#000" stroke-width="1"/>
<circle cx="88.0" cy="415.0" r="6.5" fill="#a2a2a2" stroke="#000" stroke-width="1"/>
<circle cx="91.0" cy="404.0" r="6" fill="#c6c6c6" stroke="#000" stroke-width="1"/>
<circle cx="93.0" cy="398.0" r="6" fill="#c6c6c6" stroke="#000" stroke-width="1"/>
<circle cx="93.0" cy="393.0" r="6" fill="#c6c6c6" stroke="#000" stroke-width="1"/>
<circle cx="94.0" cy="388.0" r="6" fill="#c6c6c6" stroke="#000" stroke-width="1"/>
<circle cx="93.0" cy="383.0" r="6" fill="#c6c6c6" stroke="#000" stroke-width="1"/>
<circle cx="93.0" cy="379.0" r="5.5" fill="#c6c6c6" stroke="#000" stroke-width="1"/>
<circle cx="96.0" cy="382.0" r="6" fill="#c6c6c6" stroke="#000" stroke-width="1"/>
<circle cx="99.0" cy="383.0" r="6" fill="#c6c6c6" stroke="#000" stroke-width="1"/>
<circle cx="102.0" cy="383.0" r="6.5" fill="#c6c6c6" stroke="#000" stroke-width="1"/>
<circle cx="116.3" cy="360.6" r="6" fill="#c6c6c6" stroke="#000" stroke-width="1"/>
<circle cx="158.9" cy="350.4" r="7" fill="#404040" stroke="#000" stroke-width="1"/>
<circle cx="164.0" cy="331.2" r="7" fill="#404040" stroke="#000" stroke-width="1"/>
<circle cx="199.4" cy="317.7" r="6.5" fill="#404040" stroke="#000" stroke-width="1"/>
<circle cx="203.6" cy="325.2" r="6.5" fill="#404040" stroke="#000" stroke-width="1"/>
<circle cx="213.6" cy="318.5" r="6.5" fill="#404040" stroke="#000" stroke-width="1"/>
<circle cx="219.8" cy="307.5" r="7" fill="#ff9900" stroke="#000" stroke-width="1"/>
<circle cx="221.8" cy="310.0" r="7.5" fill="#ffffff" stroke="#000" stroke-width="1"/>
<circle cx="230.9" cy="311.4" r="7.5" fill="#ffffff" stroke="#000" stroke-width="1"/>
<circle cx="238.0" cy="317.5" r="7" fill="#ffffff" stroke="#000" stroke-width="1"/>
<circle cx="247.2" cy="318.5" r="6.5" fill="#404040" stroke="#000" stroke-width="1"/>
<circle cx="261.4" cy="307.0" r="7" fill="#ff9900" stroke="#000" stroke-width="1"/>
<circle cx="277.6" cy="305.0" r="7.5" fill="#ff9900" stroke="#000" stroke-width="1"/>
<circle cx="253.3" cy="311.0" r="7" fill="#ffffff" stroke="#000" stroke-width="1"/>
<circle cx="263.4" cy="311.0" r="7" fill="#ffffff" stroke="#000" stroke-width="1"/>
<circle cx="275.6" cy="308.0" r="7.5" fill="#ffffff" stroke="#000" stroke-width="1"/>
<circle cx="280.6" cy="315.5" r="7.5" fill="#ffffff" stroke="#000" stroke-width="1"/>
<circle cx="288.8" cy="313.5" r="7.5" fill="#ffffff" stroke="#000" stroke-width="1"/>
<circle cx="285.0" cy="320.7" r="7.5" fill="#ffffff" stroke="#000" stroke-width="1"/>
<circle cx="290.0" cy="314.0" r="7.5" fill="#ffffff" stroke="#000" stroke-width="1"/>
<circle cx="302.8" cy="311.0" r="7" fill="#ff00ff" stroke="#000" stroke-width="1"/>
<circle cx="296.0" cy="313.0" r="7.5" fill="#ffffff" stroke="#000" stroke-width="1"/>
<circle cx="325.6" cy="302.0" r="6" fill="#ffff00" stroke="#000" stroke-width="1"/>
<circle cx="330.7" cy="303.0" r="7" fill="#ff00ff" stroke="#000" stroke-width="1"/>
<circle cx="316.0" cy="304.0" r="8" fill="#ff9900" stroke="#000" stroke-width="1"/>
<circle cx="321.0" cy="312.0" r="8" fill="#ff9900" stroke="#000" stroke-width="1"/>
<circle cx="305.3" cy="316.9" r="8.2" fill="#ffffff" stroke="#000" stroke-width="1"/>
<circle cx="330.0" cy="310.6" r="7.5" fill="#ffffff" stroke="#000" stroke-width="1"/>
<circle cx="334.0" cy="310.6" r="7.5" fill="#ffffff" stroke="#000" stroke-width="1"/>
<circle cx="338.0" cy="310.6" r="7.5" fill="#ffffff" stroke="#000" stroke-width="1"/>
<circle cx="342.0" cy="311.6" r="7.5" fill="#ffffff" stroke="#000" stroke-width="1"/>
<circle cx="346.0" cy="312.6" r="7.5" fill="#ffffff" stroke="#000" stroke-width="1"/>
<circle cx="361.0" cy="314.4" r="8" fill="#ff9900" stroke="#000" stroke-width="1"/>
<circle cx="353.5" cy="316.9" r="8.5" fill="#ffffff" stroke="#000" stroke-width="1"/>
<circle cx="376.3" cy="316.7" r="6" fill="#ffff00" stroke="#000" stroke-width="1"/>
<circle cx="386.5" cy="298.0" r="7" fill="#ffff00" stroke="#000" stroke-width="1"/>
<circle cx="399.0" cy="301.0" r="7" fill="#ffff00" stroke="#000" stroke-width="1"/>
<circle cx="366.0" cy="304.0" r="7" fill="#ff00ff" stroke="#000" stroke-width="1"/>
<circle cx="378.9" cy="311.8" r="8" fill="#ff00ff" stroke="#000" stroke-width="1"/>
<circle cx="381.4" cy="303.0" r="9" fill="#ff00ff" stroke="#000" stroke-width="1"/>
<circle cx="391.5" cy="306.8" r="8" fill="#ff00ff" stroke="#000" stroke-width="1"/>
<circle cx="399.0" cy="308.0" r="8" fill="#ff9900" stroke="#000" stroke-width="1"/>
<circle cx="406.7" cy="313.0" r="7.5" fill="#ff9900" stroke="#000" stroke-width="1"/>
<circle cx="422.0" cy="309.0" r="7" fill="#ff9900" stroke="#000" stroke-width="1"/>
<circle cx="432.0" cy="308.0" r="7" fill="#ff00ff" stroke="#000" stroke-width="1"/>
<circle cx="441.0" cy="311.0" r="7" fill="#ff9900" stroke="#000" stroke-width="1"/>
<circle cx="411.8" cy="310.6" r="8" fill="#ffffff" stroke="#000" stroke-width="1"/>
<circle cx="427.0" cy="315.6" r="7.5" fill="#ffffff" stroke="#000" stroke-width="1"/>
<circle cx="439.7" cy="313.0" r="7.5" fill="#ffffff" stroke="#000" stroke-width="1"/>
<circle cx="452.4" cy="313.0" r="7" fill="#ff9900" stroke="#000" stroke-width="1"/>
<circle cx="444.8" cy="323.0" r="7" fill="#ffffff" stroke="#000" stroke-width="1"/>
<circle cx="448.0" cy="319.0" r="7" fill="#ffffff" stroke="#000" stroke-width="1"/>
<circle cx="455.0" cy="330.8" r="6.5" fill="#404040" stroke="#000" stroke-width="1"/>
<circle cx="462.5" cy="328.3" r="6.5" fill="#404040" stroke="#000" stroke-width="1"/>
<circle cx="472.7" cy="324.5" r="6.5" fill="#404040" stroke="#000" stroke-width="1"/>
<circle cx="475.2" cy="318.0" r="6.5" fill="#ffffff" stroke="#000" stroke-width="1"/>
<circle cx="477.5" cy="318.3" r="6.5" fill="#ffffff" stroke="#000" stroke-width="1"/>
<circle cx="488.6" cy="319.3" r="6.5" fill="#ffffff" stroke="#000" stroke-width="1"/>
<circle cx="503.8" cy="318.3" r="7" fill="#ffffff" stroke="#000" stroke-width="1"/>
<circle cx="478.5" cy="328.4" r="6.5" fill="#404040" stroke="#000" stroke-width="1"/>
<circle cx="489.6" cy="332.5" r="6.5" fill="#404040" stroke="#000" stroke-width="1"/>
<circle cx="507.9" cy="329.4" r="6.5" fill="#404040" stroke="#000" stroke-width="1"/>
<circle cx="510.9" cy="337.5" r="6.5" fill="#404040" stroke="#000" stroke-width="1"/>
<circle cx="516.0" cy="342.6" r="6.5" fill="#404040" stroke="#000" stroke-width="1"/>
<circle cx="520.6" cy="344.6" r="6" fill="#c6c6c6" stroke="#000" stroke-width="1"/>
<circle cx="528.8" cy="345.8" r="6" fill="#c6c6c6" stroke="#000" stroke-width="1"/>
<circle cx="538.1" cy="338.8" r="6" fill="#c6c6c6" stroke="#000" stroke-width="1"/>
<circle cx="539.3" cy="344.6" r="6" fill="#c6c6c6" stroke="#000" stroke-width="1"/>
<circle cx="542.8" cy="354.0" r="6" fill="#c6c6c6" stroke="#000" stroke-width="1"/>
<circle cx="549.9" cy="356.3" r="6" fill="#c6c6c6" stroke="#000" stroke-width="1"/>
<circle cx="548.7" cy="371.6" r="6.5" fill="#a2a2a2" stroke="#000" stroke-width="1"/>
<circle cx="559.2" cy="365.7" r="6.5" fill="#a2a2a2" stroke="#000" stroke-width="1"/>
<circle cx="562.8" cy="347.0" r="6" fill="#c6c6c6" stroke="#000" stroke-width="1"/>
<circle cx="572.1" cy="340.0" r="6" fill="#c6c6c6" stroke="#000" stroke-width="1"/>
<circle cx="578.0" cy="352.8" r="6" fill="#c6c6c6" stroke="#000" stroke-width="1"/>
<circle cx="580.3" cy="337.6" r="6.5" fill="#c6c6c6" stroke="#000" stroke-width="1"/>
<circle cx="580.3" cy="344.6" r="6" fill="#c6c6c6" stroke="#000" stroke-width="1"/>
<circle cx="592.0" cy="335.2" r="6.5" fill="#404040" stroke="#000" stroke-width="1"/>
<circle cx="594.4" cy="343.4" r="6.5" fill="#404040" stroke="#000" stroke-width="1"/>
<circle cx="597.0" cy="334.0" r="6.5" fill="#404040" stroke="#000" stroke-width="1"/>
<circle cx="604.6" cy="328.0" r="6.5" fill="#404040" stroke="#000" stroke-width="1"/>
<circle cx="612.1" cy="326.6" r="6.5" fill="#404040" stroke="#000" stroke-width="1"/>
<circle cx="618.1" cy="332.6" r="6.5" fill="#404040" stroke="#000" stroke-width="1"/>
<circle cx="619.6" cy="349.2" r="6.5" fill="#c6c6c6" stroke="#000" stroke-width="1"/>
<circle cx="628.7" cy="359.7" r="6.5" fill="#c6c6c6" stroke="#000" stroke-width="1"/>
<circle cx="677.5" cy="459.8" r="6.3" fill="#a2a2a2" stroke="#000" stroke-width="1"/>
<line x1="72.5" y1="196" x2="72.5" y2="488" stroke="#000"/>
<line x1="72" y1="486.5" x2="680" y2="486.5" stroke="#222"/>
<rect x="24.5" y="507.5" width="668" height="84" fill="#808080" stroke="#666" stroke-width="1"/>
<circle cx="52.8" cy="520.2" r="5.8" fill="#0000ff" stroke="#1a1a1a" stroke-width="1"/>
<circle cx="275.8" cy="520.2" r="5.8" fill="#ff0000" stroke="#1a1a1a" stroke-width="1"/>
<circle cx="498.8" cy="520.2" r="5.8" fill="#ffff00" stroke="#1a1a1a" stroke-width="1"/>
<circle cx="52.8" cy="540.3" r="5.8" fill="#ff00ff" stroke="#1a1a1a" stroke-width="1"/>
<circle cx="275.8" cy="540.3" r="5.8" fill="#ff9900" stroke="#1a1a1a" stroke-width="1"/>
<circle cx="498.8" cy="540.3" r="5.8" fill="#ffffff" stroke="#1a1a1a" stroke-width="1"/>
<circle cx="52.8" cy="560.6" r="5.8" fill="#404040" stroke="#1a1a1a" stroke-width="1"/>
<circle cx="275.8" cy="560.6" r="5.8" fill="#d0d0d0" stroke="#1a1a1a" stroke-width="1"/>
<circle cx="498.8" cy="560.6" r="5.8" fill="#a8a8a8" stroke="#1a1a1a" stroke-width="1"/>
<line x1="34.6" y1="579.5" x2="72.3" y2="579.5" stroke="#333" stroke-width="1"/>
<line x1="256.7" y1="579.5" x2="295" y2="579.5" stroke="#222" stroke-width="1" stroke-dasharray="1.2,2.2"/>
<line x1="480.4" y1="579.5" x2="518" y2="579.5" stroke="#c8c8c8" stroke-width="1"/></svg>
<div class="t" style="left:27.80px;top:190.35px;font-size:14px;line-height:14px;color:#333;transform:scaleX(1.0675);">2900</div>
<div class="t" style="left:27.80px;top:227.35px;font-size:14px;line-height:14px;color:#333;transform:scaleX(1.0675);">2850</div>
<div class="t" style="left:27.80px;top:263.35px;font-size:14px;line-height:14px;color:#333;transform:scaleX(1.0675);">2800</div>
<div class="t" style="left:27.80px;top:299.35px;font-size:14px;line-height:14px;color:#333;transform:scaleX(1.0675);">2750</div>
<div class="t" style="left:27.80px;top:335.35px;font-size:14px;line-height:14px;color:#333;transform:scaleX(1.0675);">2700</div>
<div class="t" style="left:27.80px;top:371.35px;font-size:14px;line-height:14px;color:#333;transform:scaleX(1.0675);">2650</div>
<div class="t" style="left:27.80px;top:408.35px;font-size:14px;line-height:14px;color:#333;transform:scaleX(1.0675);">2600</div>
<div class="t" style="left:27.80px;top:444.35px;font-size:14px;line-height:14px;color:#333;transform:scaleX(1.0675);">2550</div>
<div class="t" style="left:27.80px;top:481.35px;font-size:14px;line-height:14px;color:#333;transform:scaleX(1.0675);">2500</div>
<div class="t" style="left:61.20px;top:495.18px;font-size:9px;line-height:9px;color:#111;font-weight:bold;transform:scaleX(1.1350);">1956</div>
<div class="t" style="left:91.20px;top:495.18px;font-size:9px;line-height:9px;color:#111;font-weight:bold;transform:scaleX(1.1350);">1958</div>
<div class="t" style="left:120.20px;top:495.18px;font-size:9px;line-height:9px;color:#111;font-weight:bold;transform:scaleX(1.1350);">1960</div>
<div class="t" style="left:150.20px;top:495.18px;font-size:9px;line-height:9px;color:#111;font-weight:bold;transform:scaleX(1.1350);">1962</div>
<div class="t" style="left:180.20px;top:495.18px;font-size:9px;line-height:9px;color:#111;font-weight:bold;transform:scaleX(1.1350);">1964</div>
<div class="t" style="left:209.20px;top:495.18px;font-size:9px;line-height:9px;color:#111;font-weight:bold;transform:scaleX(1.1350);">1966</div>
<div class="t" style="left:239.20px;top:495.18px;font-size:9px;line-height:9px;color:#111;font-weight:bold;transform:scaleX(1.1350);">1968</div>
<div class="t" style="left:268.20px;top:495.18px;font-size:9px;line-height:9px;color:#111;font-weight:bold;transform:scaleX(1.1350);">1970</div>
<div class="t" style="left:298.20px;top:495.18px;font-size:9px;line-height:9px;color:#111;font-weight:bold;transform:scaleX(1.1350);">1972</div>
<div class="t" style="left:328.20px;top:495.18px;font-size:9px;line-height:9px;color:#111;font-weight:bold;transform:scaleX(1.1350);">1974</div>
<div class="t" style="left:357.20px;top:495.18px;font-size:9px;line-height:9px;color:#111;font-weight:bold;transform:scaleX(1.1350);">1976</div>
<div class="t" style="left:387.20px;top:495.18px;font-size:9px;line-height:9px;color:#111;font-weight:bold;transform:scaleX(1.1350);">1978</div>
<div class="t" style="left:417.20px;top:495.18px;font-size:9px;line-height:9px;color:#111;font-weight:bold;transform:scaleX(1.1350);">1980</div>
<div class="t" style="left:447.20px;top:495.18px;font-size:9px;line-height:9px;color:#111;font-weight:bold;transform:scaleX(1.1350);">1982</div>
<div class="t" style="left:476.20px;top:495.18px;font-size:9px;line-height:9px;color:#111;font-weight:bold;transform:scaleX(1.1350);">1984</div>
<div class="t" style="left:505.20px;top:495.18px;font-size:9px;line-height:9px;color:#111;font-weight:bold;transform:scaleX(1.1350);">1986</div>
<div class="t" style="left:535.20px;top:495.18px;font-size:9px;line-height:9px;color:#111;font-weight:bold;transform:scaleX(1.1350);">1988</div>
<div class="t" style="left:565.20px;top:495.18px;font-size:9px;line-height:9px;color:#111;font-weight:bold;transform:scaleX(1.1350);">1990</div>
<div class="t" style="left:594.20px;top:495.18px;font-size:9px;line-height:9px;color:#111;font-weight:bold;transform:scaleX(1.1350);">1992</div>
<div class="t" style="left:624.20px;top:495.18px;font-size:9px;line-height:9px;color:#111;font-weight:bold;transform:scaleX(1.1350);">1994</div>
<div class="t" style="left:654.20px;top:495.18px;font-size:9px;line-height:9px;color:#111;font-weight:bold;transform:scaleX(1.1350);">1996</div>
<div class="t" style="left:77.80px;top:510.81px;font-size:19px;line-height:19px;color:#111;font-weight:bold;transform:scaleX(1.1482);-webkit-text-stroke:0.5px #111;">#1 in world</div>
<div class="t" style="left:300.20px;top:510.81px;font-size:19px;line-height:19px;color:#111;font-weight:bold;transform:scaleX(1.1421);-webkit-text-stroke:0.5px #111;">#2 in world</div>
<div class="t" style="left:524.00px;top:510.81px;font-size:19px;line-height:19px;color:#111;font-weight:bold;transform:scaleX(1.1391);-webkit-text-stroke:0.5px #111;">#3 in world</div>
<div class="t" style="left:77.80px;top:530.91px;font-size:19px;line-height:19px;color:#111;font-weight:bold;transform:scaleX(1.1482);-webkit-text-stroke:0.5px #111;">#4 in world</div>
<div class="t" style="left:300.20px;top:530.91px;font-size:19px;line-height:19px;color:#111;font-weight:bold;transform:scaleX(1.1421);-webkit-text-stroke:0.5px #111;">#5 in world</div>
<div class="t" style="left:524.00px;top:530.91px;font-size:19px;line-height:19px;color:#111;font-weight:bold;transform:scaleX(1.1594);-webkit-text-stroke:0.5px #111;">#6-10 in world</div>
<div class="t" style="left:77.80px;top:551.21px;font-size:19px;line-height:19px;color:#111;font-weight:bold;transform:scaleX(1.1762);-webkit-text-stroke:0.5px #111;">#11-20 in world</div>
<div class="t" style="left:300.20px;top:551.21px;font-size:19px;line-height:19px;color:#111;font-weight:bold;transform:scaleX(1.1661);-webkit-text-stroke:0.5px #111;">#21-50 in world</div>
<div class="t" style="left:524.00px;top:551.21px;font-size:19px;line-height:19px;color:#111;font-weight:bold;transform:scaleX(1.1518);-webkit-text-stroke:0.5px #111;">Below #50</div>
<div class="t" style="left:77.10px;top:570.11px;font-size:17px;line-height:17px;color:#111;transform:scaleX(0.9623);">Bobby Fischer</div>
<div class="t" style="left:300.20px;top:570.11px;font-size:17px;line-height:17px;color:#111;transform:scaleX(0.9540);">Anatoly Karpov</div>
<div class="t" style="left:524.00px;top:570.11px;font-size:17px;line-height:17px;color:#111;transform:scaleX(0.9704);">Viktor Korchnoi</div>
</body></html>
